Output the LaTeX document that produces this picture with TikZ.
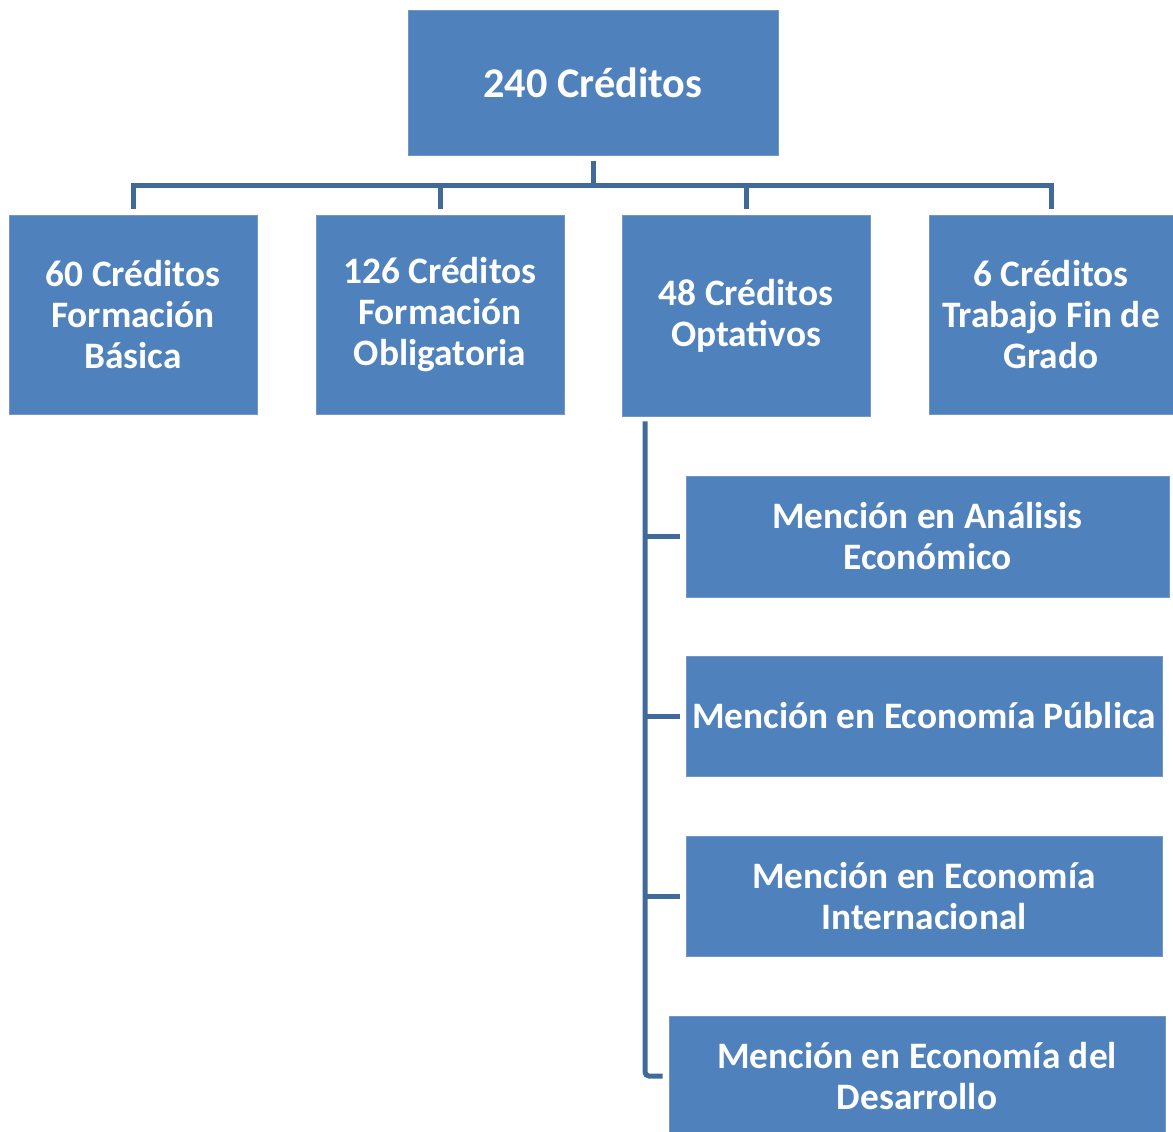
\documentclass[tikz,border=0pt]{standalone}
\usepackage{fontspec}
\setmainfont{Carlito}
\definecolor{boxblue}{HTML}{4F81BD}
\definecolor{lineblue}{HTML}{3F6A9A}
\definecolor{edgeblue}{HTML}{7396C6}
\begin{document}
\begin{tikzpicture}[x=0.75pt, y=-0.75pt,
    box/.style={fill=boxblue, draw=edgeblue, line width=0.6pt, text=white, align=center,
        inner sep=0pt, font=\fontsize{28}{30.75}\selectfont\bfseries},
    conn/.style={draw=lineblue, line width=3.75pt, shorten <=4pt, shorten >=4.5pt}]
    \useasboundingbox (0,0) rectangle (1173,1131);

    % Top box
    \node[box, minimum width=370*0.75pt, minimum height=145*0.75pt,
        font=\fontsize{31.7}{34}\selectfont\bfseries] (total) at (593,82.5) {240 Créditos};

    % Second row
    \node[box, minimum width=248*0.75pt, minimum height=199*0.75pt] (basica) at (133,314.5)
        {60 Créditos\\Formación\\Básica};
    \node[box, minimum width=248*0.75pt, minimum height=199*0.75pt] (obligatoria) at (440,314.5)
        {126 Créditos\\Formación\\Obligatoria};
    \node[box, minimum width=248*0.75pt, minimum height=201*0.75pt] (optativos) at (746,315.5)
        {48 Créditos\\Optativos};
    \node[box, minimum width=244*0.75pt, minimum height=199*0.75pt] (tfg) at (1051,314.5)
        {6 Créditos\\Trabajo Fin de\\Grado};

    % Menciones
    \node[box, minimum width=483*0.75pt, minimum height=121*0.75pt] (analisis) at (927.5,536.5)
        {Mención en Análisis\\Económico};
    \node[box, minimum width=476*0.75pt, minimum height=120*0.75pt] (publica) at (924,716)
        {Mención en Economía Pública};
    \node[box, minimum width=476*0.75pt, minimum height=120*0.75pt] (internacional) at (924,896)
        {Mención en Economía\\Internacional};
    \node[box, minimum width=496*0.75pt, minimum height=120*0.75pt] (desarrollo) at (917,1076)
        {Mención en Economía del\\Desarrollo};

    % Connectors to second row
    \foreach \b in {basica, obligatoria, optativos, tfg}
        \draw[conn] (total.south) -- ++(0,30) -| (\b.north);

    % Trunk for the menciones
    \coordinate (trunk) at (645,416);
    \draw[conn, rounded corners=3pt] (trunk) |- (desarrollo.west);
    \foreach \m in {analisis, publica, internacional}
        \draw[conn, shorten <=0pt] (\m.west -| trunk) -- (\m.west);
\end{tikzpicture}
\end{document}
